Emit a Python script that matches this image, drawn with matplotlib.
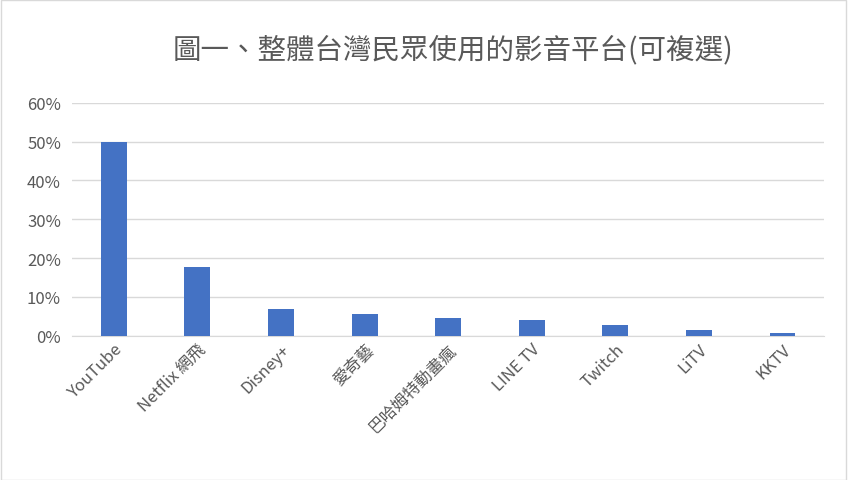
import matplotlib
matplotlib.use("Agg")
import matplotlib.pyplot as plt
from matplotlib.ticker import PercentFormatter
from matplotlib.patches import Rectangle

plt.rcParams['font.family'] = ['Noto Sans CJK TC', 'DejaVu Sans']

categories = ["YouTube", "Netflix 網飛", "Disney+", "愛奇藝", "巴哈姆特動畫瘋", "LINE TV", "Twitch", "LiTV", "KKTV"]
values = [50.0, 17.8, 7.0, 5.7, 4.6, 4.1, 2.8, 1.5, 0.8]
yticks = [0, 10, 20, 30, 40, 50, 60]

fig = plt.figure(figsize=(8.48, 4.81), dpi=100)
ax = fig.add_axes([0.085, 0.30, 0.887, 0.484])
ax.bar(range(len(categories)), values, width=0.31, color="#4472C4", zorder=3)
ax.set_xlim(-0.5, len(categories) - 0.5)
ax.set_ylim(0, 60)
ax.set_yticks(yticks)
ax.yaxis.set_major_formatter(PercentFormatter(decimals=0))
ax.grid(axis='y', color="#D9D9D9", linewidth=1, zorder=0)
for s in ['top', 'right', 'left']:
    ax.spines[s].set_visible(False)
ax.spines['bottom'].set_color("#D9D9D9")
ax.tick_params(axis='both', length=0, labelsize=12, colors="#595959")
ax.tick_params(axis='y', pad=8)
ax.set_xticks(range(len(categories)))
ax.set_xticklabels(categories, rotation=45, ha='right', rotation_mode='anchor')
fig.text(0.534, 0.895, "圖一、整體台灣民眾使用的影音平台(可複選)", ha='center', va='center',
         fontsize=20.5, color="#595959", fontweight='medium')
fig.patches.append(Rectangle((0.001, 0.001), 0.997, 0.997, transform=fig.transFigure,
                             fill=False, edgecolor="#D9D9D9", linewidth=1))
fig.savefig("out.png", dpi=100)
